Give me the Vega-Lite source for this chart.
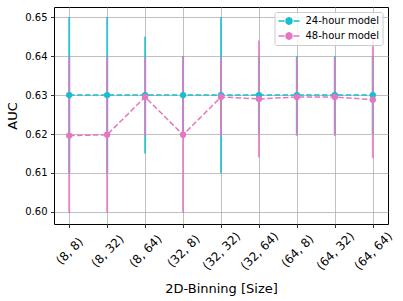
{
  "$schema": "https://vega.github.io/schema/vega-lite/v6.json",
  "width": 334,
  "height": 217,
  "autosize": "none",
  "padding": {"left": 54, "top": 7, "right": 15, "bottom": 77},
  "background": "white",
  "config": {
    "font": "DejaVu Sans",
    "view": {"stroke": "#000", "strokeWidth": 1},
    "axis": {
      "labelFont": "DejaVu Sans",
      "titleFont": "DejaVu Sans",
      "labelColor": "#000",
      "titleColor": "#000",
      "titleFontWeight": "normal",
      "domain": false,
      "tickColor": "#000",
      "tickSize": 3.5,
      "tickWidth": 0.8,
      "gridColor": "#b0b0b0",
      "gridWidth": 0.8,
      "grid": true
    }
  },
  "data": {
    "values": [
      {"model": "24-hour model", "bin": "(8, 8)", "auc": 0.63, "lo": 0.61, "hi": 0.65},
      {"model": "24-hour model", "bin": "(8, 32)", "auc": 0.63, "lo": 0.61, "hi": 0.65},
      {"model": "24-hour model", "bin": "(8, 64)", "auc": 0.63, "lo": 0.615, "hi": 0.645},
      {"model": "24-hour model", "bin": "(32, 8)", "auc": 0.63, "lo": 0.62, "hi": 0.64},
      {"model": "24-hour model", "bin": "(32, 32)", "auc": 0.63, "lo": 0.61, "hi": 0.65},
      {"model": "24-hour model", "bin": "(32, 64)", "auc": 0.63, "lo": 0.62, "hi": 0.64},
      {"model": "24-hour model", "bin": "(64, 8)", "auc": 0.63, "lo": 0.62, "hi": 0.64},
      {"model": "24-hour model", "bin": "(64, 32)", "auc": 0.63, "lo": 0.62, "hi": 0.64},
      {"model": "24-hour model", "bin": "(64, 64)", "auc": 0.63, "lo": 0.62, "hi": 0.64},
      {"model": "48-hour model", "bin": "(8, 8)", "auc": 0.6196, "lo": 0.5997, "hi": 0.6397},
      {"model": "48-hour model", "bin": "(8, 32)", "auc": 0.6198, "lo": 0.5998, "hi": 0.6398},
      {"model": "48-hour model", "bin": "(8, 64)", "auc": 0.6295, "lo": 0.6195, "hi": 0.6395},
      {"model": "48-hour model", "bin": "(32, 8)", "auc": 0.6198, "lo": 0.5998, "hi": 0.6398},
      {"model": "48-hour model", "bin": "(32, 32)", "auc": 0.6295, "lo": 0.6195, "hi": 0.6395},
      {"model": "48-hour model", "bin": "(32, 64)", "auc": 0.629, "lo": 0.614, "hi": 0.644},
      {"model": "48-hour model", "bin": "(64, 8)", "auc": 0.6295, "lo": 0.6195, "hi": 0.6395},
      {"model": "48-hour model", "bin": "(64, 32)", "auc": 0.6295, "lo": 0.6195, "hi": 0.6395},
      {"model": "48-hour model", "bin": "(64, 64)", "auc": 0.6288, "lo": 0.6138, "hi": 0.6438}
    ]
  },
  "encoding": {
    "x": {
      "field": "bin",
      "type": "nominal",
      "sort": null,
      "scale": {"type": "point", "padding": 0.4},
      "axis": {
        "title": "2D-Binning [Size]",
        "titleFontSize": 13,
        "titleY": 58,
        "titleBaseline": "top",
        "labelAngle": -45,
        "labelAlign": "center",
        "labelBaseline": "middle",
        "labelPadding": 23,
        "labelFontSize": 12,
        "labelOverlap": false,
        "labelBound": false
      }
    },
    "y": {
      "field": "auc",
      "type": "quantitative",
      "scale": {"domain": [0.5969, 0.6526], "nice": false, "zero": false},
      "axis": {
        "title": "AUC",
        "titleFontSize": 13,
        "titlePadding": 5,
        "labelFontSize": 10,
        "labelPadding": 3.5,
        "values": [0.6, 0.61, 0.62, 0.63, 0.64, 0.65],
        "format": ".2f"
      }
    },
    "color": {
      "field": "model",
      "type": "nominal",
      "scale": {"domain": ["24-hour model", "48-hour model"], "range": ["#17becf", "#e377c2"]},
      "legend": {
        "title": null,
        "orient": "none",
        "legendX": 220.5,
        "legendY": 5,
        "padding": 3,
        "fillColor": "rgba(255,255,255,0.8)",
        "strokeColor": "#cccccc",
        "cornerRadius": 2,
        "labelFont": "DejaVu Sans",
        "labelFontSize": 10,
        "labelColor": "#000",
        "labelOffset": 5,
        "rowPadding": 3,
        "clipHeight": 12,
        "symbolType": "M-1,0H-0.42M0.42,0H1M0,-0.38V0.38M-0.28,0A0.28,0.28 0 1,1 0.28,0A0.28,0.28 0 1,1 -0.28,0Z",
        "symbolSize": 441,
        "symbolStrokeWidth": 1.5,
        "encode": {
          "symbols": {
            "update": {
              "fill": {"scale": "color", "field": "value"},
              "stroke": {"scale": "color", "field": "value"},
              "strokeWidth": {"value": 1.5},
              "opacity": {"value": 1}
            }
          }
        }
      }
    }
  },
  "layer": [
    {
      "mark": {"type": "rule", "strokeWidth": 2, "opacity": 0.8},
      "encoding": {
        "y": {"field": "lo", "type": "quantitative"},
        "y2": {"field": "hi"}
      }
    },
    {
      "mark": {"type": "line", "strokeWidth": 1.5, "strokeDash": [5.5, 2.4]}
    },
    {
      "mark": {"type": "point", "filled": true, "size": 40, "opacity": 1, "shape": "circle"}
    }
  ]
}
